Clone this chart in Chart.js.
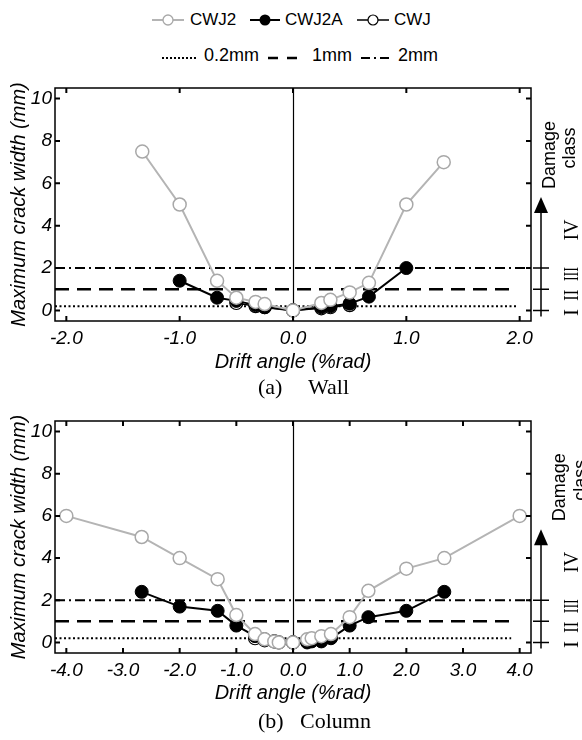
<!DOCTYPE html>
<html><head><meta charset="utf-8">
<script src="https://cdn.jsdelivr.net/npm/chart.js@4/dist/chart.umd.min.js"></script>
<style>
body{margin:0;width:582px;height:740px;position:relative;background:#fff;overflow:hidden;font-family:"Liberation Sans",Arial,sans-serif;color:#000}
canvas{position:absolute;left:0}
.t{position:absolute;white-space:nowrap;line-height:1}
.s{position:absolute}
.cap{position:absolute;white-space:nowrap;line-height:1;font-family:"Liberation Serif","Times New Roman",serif;font-size:22px}
</style></head><body>

<!-- legend row 1 -->
<svg class="s" style="left:152px;top:13px" width="32" height="14"><line x1="0" y1="7" x2="32" y2="7" stroke="#b4b4b4" stroke-width="2"/><circle cx="16" cy="7" r="5" fill="#fff" stroke="#a8a8a8" stroke-width="1.3"/></svg>
<div class="t" style="left:190px;top:11px;font-size:17px">CWJ2</div>
<svg class="s" style="left:250px;top:13px" width="30" height="14"><line x1="0" y1="7" x2="30" y2="7" stroke="#000" stroke-width="2"/><circle cx="15" cy="7" r="5.5" fill="#000"/></svg>
<div class="t" style="left:285px;top:11px;font-size:17px">CWJ2A</div>
<svg class="s" style="left:357px;top:13px" width="32" height="14"><line x1="0" y1="7" x2="32" y2="7" stroke="#000" stroke-width="1.5"/><circle cx="16" cy="7" r="5" fill="#fff" stroke="#000" stroke-width="1.2"/></svg>
<div class="t" style="left:394px;top:11px;font-size:17px">CWJ</div>
<!-- legend row 2 -->
<svg class="s" style="left:162px;top:51px" width="34" height="10"><line x1="0" y1="7" x2="34" y2="7" stroke="#000" stroke-width="2" stroke-dasharray="2,2"/></svg>
<div class="t" style="left:204px;top:46px;font-size:18px">0.2mm</div>
<svg class="s" style="left:268px;top:51px" width="30" height="10"><line x1="0" y1="7" x2="30" y2="7" stroke="#000" stroke-width="2.5" stroke-dasharray="10,9"/></svg>
<div class="t" style="left:312px;top:46px;font-size:18px">1mm</div>
<svg class="s" style="left:361px;top:51px" width="32" height="10"><line x1="0" y1="7" x2="32" y2="7" stroke="#000" stroke-width="2" stroke-dasharray="9,4,2,4"/></svg>
<div class="t" style="left:398px;top:46px;font-size:18px">2mm</div>

<canvas id="c1" width="582" height="300" style="top:80px"></canvas>
<canvas id="c2" width="582" height="311" style="top:400px"></canvas>

<div class="cap" style="left:258px;top:376px">(a)</div>
<div class="cap" style="left:308px;top:376px">Wall</div>
<div class="cap" style="left:258px;top:710px">(b)</div>
<div class="cap" style="left:300px;top:710px">Column</div>

<script>
// ---------- data ----------
const seriesNames = ["CWJ2", "CWJ2A", "CWJ"];
const refValues = [0.2, 1, 2];           // 0.2mm, 1mm, 2mm
const yTicks = [0, 2, 4, 6, 8, 10];

// (a) Wall
const wallXTicks = [-2, -1, 0, 1, 2];
const wallXTickLabels = ["-2.0", "-1.0", "0.0", "1.0", "2.0"];
const wallX_CWJ2 = [-1.33, -1.0, -0.67, -0.5, -0.33, -0.25, 0, 0.25, 0.33, 0.5, 0.67, 1.0, 1.33];
const wallY_CWJ2 = [7.5, 5.0, 1.4, 0.6, 0.4, 0.3, 0, 0.35, 0.5, 0.85, 1.3, 5.0, 7.0];
const wallX_CWJ2A = [-1.0, -0.67, -0.5, -0.33, -0.25, 0, 0.25, 0.33, 0.5, 0.67, 1.0];
const wallY_CWJ2A = [1.4, 0.6, 0.45, 0.25, 0.15, 0, 0.15, 0.2, 0.32, 0.65, 2.0];
const wallX_CWJ = [-0.5, -0.33, -0.25, 0, 0.25, 0.33, 0.5];
const wallY_CWJ = [0.35, 0.2, 0.15, 0, 0.1, 0.15, 0.25];
const wallRefStart = [-2.1, -2.1, -2.1];
const wallRefEnd = [1.98, 1.93, 2.1];

// (b) Column
const colXTicks = [-4, -3, -2, -1, 0, 1, 2, 3, 4];
const colXTickLabels = ["-4.0", "-3.0", "-2.0", "-1.0", "0.0", "1.0", "2.0", "3.0", "4.0"];
const colX_CWJ2 = [-4, -2.67, -2, -1.33, -1, -0.67, -0.5, -0.33, -0.25, 0, 0.25, 0.33, 0.5, 0.67, 1, 1.33, 2, 2.67, 4];
const colY_CWJ2 = [6.0, 5.0, 4.0, 3.0, 1.3, 0.4, 0.15, 0.05, 0.0, 0, 0.15, 0.2, 0.3, 0.4, 1.2, 2.45, 3.5, 4.0, 6.0];
const colX_CWJ2A = [-2.67, -2, -1.33, -1, -0.67, -0.5, -0.33, 0, 0.25, 0.33, 0.5, 0.67, 1, 1.33, 2, 2.67];
const colY_CWJ2A = [2.4, 1.7, 1.5, 0.8, 0.3, 0.15, 0.05, 0, 0, 0.05, 0.05, 0.2, 0.8, 1.2, 1.5, 2.4];
const colX_CWJ = [-0.67, -0.5, -0.33, -0.25, 0, 0.25, 0.33, 0.5, 0.67];
const colY_CWJ = [0.2, 0.1, 0.05, 0.0, 0, 0.05, 0.1, 0.15, 0.25];
const colRefStart = [-4.2, -4.2, -4.2];
const colRefEnd = [3.85, 3.85, 4.2];

// ---------- helpers ----------
Chart.defaults.color = '#000';
const pts = (xs, ys) => xs.map((x, i) => ({x, y: ys[i]}));
const refDash = [[2, 2.5], [14, 8], [10, 4, 2, 4]];
const refWidth = [2, 2.5, 2];

const framePlugin = {
  id: 'frame',
  beforeDatasetsDraw(chart) {
    const {ctx, chartArea: a, scales: {x}} = chart;
    const px = Math.round(x.getPixelForValue(0)) + 0.5;
    ctx.save(); ctx.strokeStyle = '#000'; ctx.lineWidth = 1.2;
    ctx.beginPath(); ctx.moveTo(px, a.top); ctx.lineTo(px, a.bottom); ctx.stroke();
    ctx.restore();
  },
  afterDraw(chart, args, o) {
    const {ctx, chartArea: a, scales: {x, y}} = chart;
    ctx.save();
    ctx.strokeStyle = '#000'; ctx.fillStyle = '#000';
    ctx.lineWidth = 1.5;
    ctx.strokeRect(a.left, a.top, a.right - a.left, a.bottom - a.top);
    ctx.lineWidth = 2;
    ctx.beginPath();
    o.xTicks.forEach(v => {
      const p = x.getPixelForValue(v);
      ctx.moveTo(p, a.bottom); ctx.lineTo(p, a.bottom - 5);
      ctx.moveTo(p, a.top); ctx.lineTo(p, a.top + 5);
    });
    yTicks.forEach(v => {
      const p = y.getPixelForValue(v);
      ctx.moveTo(a.left, p); ctx.lineTo(a.left + 5, p);
      ctx.moveTo(a.right, p); ctx.lineTo(a.right - 5, p);
    });
    ctx.stroke();
    // damage class annotation
    const y0 = y.getPixelForValue(0), y1 = y.getPixelForValue(1), y2 = y.getPixelForValue(2);
    const ax = o.arrowX, tip = y2 - 71;
    ctx.lineWidth = 1.5;
    ctx.beginPath();
    ctx.moveTo(ax, y0 + 6); ctx.lineTo(ax, tip + 14);
    [y0, y1, y2].forEach(p => { ctx.moveTo(ax - 8, p); ctx.lineTo(ax + 8, p); });
    ctx.stroke();
    ctx.beginPath(); ctx.moveTo(ax, tip); ctx.lineTo(ax - 7, tip + 16); ctx.lineTo(ax + 7, tip + 16); ctx.closePath(); ctx.fill();
    const rot = (txt, cx, cy, font, maxW) => {
      ctx.save(); ctx.translate(cx, cy); ctx.rotate(-Math.PI / 2);
      ctx.font = font; ctx.textAlign = 'center'; ctx.textBaseline = 'middle';
      if (maxW) ctx.fillText(txt, 0, 0, maxW); else ctx.fillText(txt, 0, 0);
      ctx.restore();
    };
    const rf = '22px "Liberation Serif", "Times New Roman", serif';
    rot('I', o.romanX, y0 + 2, rf, 7);
    rot('II', o.romanX, y1 + 6, rf, 11);
    rot('III', o.romanX, y2 + 6, rf, 14);
    rot('IV', o.romanX, y2 - 38, rf, 21);
    const sf = '18px "Liberation Sans", Arial, sans-serif';
    rot('Damage', o.damageX, y2 - 113, sf);
    rot('class', o.classX, y2 - 120, sf);
    ctx.restore();
  }
};

function makeChart(id, c) {
  const datasets = [
    {label: seriesNames[0], data: pts(c.x2, c.y2), borderColor: '#b4b4b4', borderWidth: 2,
     pointRadius: 6.5, pointBackgroundColor: '#fff', pointBorderColor: '#a8a8a8', pointBorderWidth: 1.5},
    {label: seriesNames[1], data: pts(c.x2a, c.y2a), borderColor: '#000', borderWidth: 2,
     pointRadius: 6.5, pointBackgroundColor: '#000', pointBorderColor: '#000', pointBorderWidth: 1},
    {label: seriesNames[2], data: pts(c.x1, c.y1), borderColor: '#000', borderWidth: 1.5,
     pointRadius: 6.5, pointBackgroundColor: '#fff', pointBorderColor: '#000', pointBorderWidth: 1.2},
  ];
  refValues.forEach((v, i) => datasets.push({
    label: v + 'mm', data: [{x: c.refStart[i], y: v}, {x: c.refEnd[i], y: v}],
    borderColor: '#000', borderWidth: refWidth[i], borderDash: refDash[i], pointRadius: 0
  }));
  return new Chart(document.getElementById(id), {
    type: 'line',
    data: {datasets},
    plugins: [framePlugin],
    options: {
      responsive: false, animation: false, devicePixelRatio: 1,
      layout: {padding: {left: 0, right: 51, top: c.padTop, bottom: 0}},
      plugins: {legend: {display: false}, tooltip: {enabled: false},
        frame: {xTicks: c.xTicks, arrowX: 541, romanX: 572, damageX: c.damageX, classX: c.classX}},
      scales: {
        x: {type: 'linear', min: c.xMin, max: c.xMax,
          afterBuildTicks: s => { s.ticks = c.xTicks.map(v => ({value: v})); },
          afterFit: s => { s.height = c.xAxisH; s.paddingLeft = 0; s.paddingRight = 0; },
          grid: {display: false, drawTicks: false}, border: {display: false},
          ticks: {autoSkip: false, maxRotation: 0, padding: 6, callback: (v, i) => c.xLabels[i],
            font: {family: 'Liberation Sans', size: 19, style: 'italic'}},
          title: {display: true, text: 'Drift angle (%rad)', padding: {top: 0, bottom: 6},
            font: {family: 'Liberation Sans', size: 20, style: 'italic'}}},
        y: {type: 'linear', min: -0.5, max: 10.5,
          afterBuildTicks: s => { s.ticks = yTicks.map(v => ({value: v})); },
          afterFit: s => { s.width = 55; s.paddingTop = 0; s.paddingBottom = 0; },
          grid: {display: false, drawTicks: false}, border: {display: false},
          ticks: {padding: 3, font: {family: 'Liberation Sans', size: 19, style: 'italic'}},
          title: {display: true, text: 'Maximum crack width (mm)', padding: {top: 7, bottom: 0},
            font: {family: 'Liberation Sans', size: 20, style: 'italic'}}}
      }
    }
  });
}

makeChart('c1', {x2: wallX_CWJ2, y2: wallY_CWJ2, x2a: wallX_CWJ2A, y2a: wallY_CWJ2A, x1: wallX_CWJ, y1: wallY_CWJ,
  refStart: wallRefStart, refEnd: wallRefEnd, xTicks: wallXTicks, xLabels: wallXTickLabels,
  xMin: -2.1, xMax: 2.1, padTop: 8, xAxisH: 59, damageX: 550, classX: 570});
makeChart('c2', {x2: colX_CWJ2, y2: colY_CWJ2, x2a: colX_CWJ2A, y2a: colY_CWJ2A, x1: colX_CWJ, y1: colY_CWJ,
  refStart: colRefStart, refEnd: colRefEnd, xTicks: colXTicks, xLabels: colXTickLabels,
  xMin: -4.2, xMax: 4.2, padTop: 21, xAxisH: 58, damageX: 560, classX: 581});
</script>
</body></html>
